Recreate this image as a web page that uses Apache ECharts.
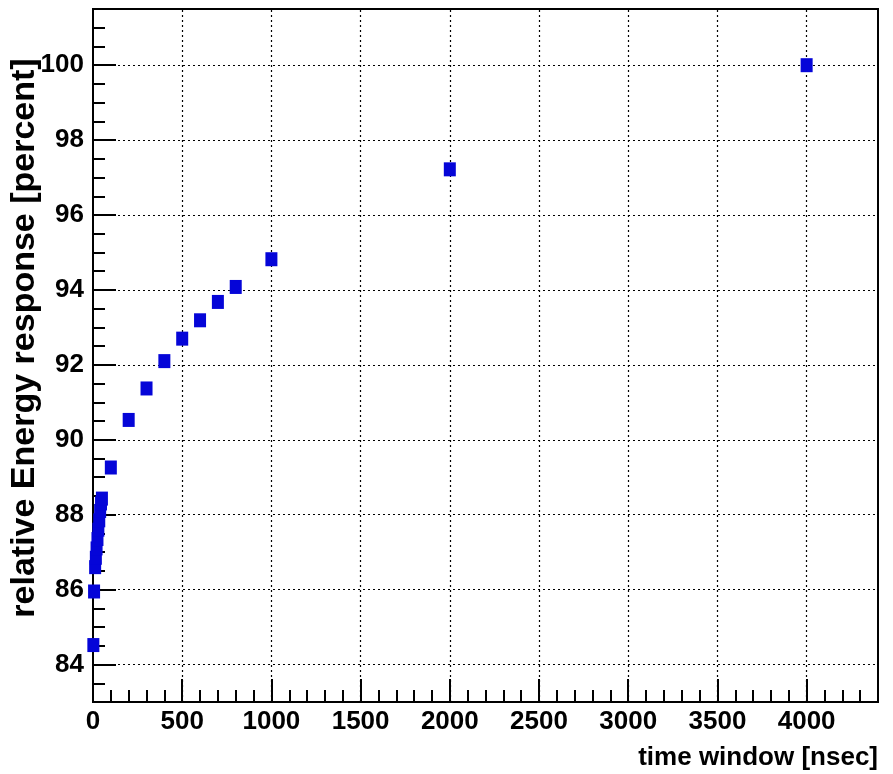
<!DOCTYPE html>
<html>
<head>
<meta charset="utf-8">
<script src="https://cdn.jsdelivr.net/npm/echarts@6/dist/echarts.min.js"></script>
<style>
html,body{margin:0;padding:0;background:#fff;}
#chart{width:893px;height:774px;}
</style>
</head>
<body>
<div id="chart"></div>
<script>
// time window [nsec]
const timeWindow = [2, 6, 12, 16, 20, 25, 30, 35, 40, 45, 50, 100, 200, 300, 400, 500, 600, 700, 800, 1000, 2000, 4000];
// relative energy response [percent]
const response = [84.52, 85.95, 86.6, 86.85, 87.1, 87.35, 87.6, 87.85, 88.1, 88.3, 88.43, 89.26, 90.53, 91.37, 92.1, 92.7, 93.19, 93.68, 94.08, 94.82, 97.22, 100.0];
const xMajorTicks = [0, 500, 1000, 1500, 2000, 2500, 3000, 3500, 4000];
const yMajorTicks = [84, 86, 88, 90, 92, 94, 96, 98, 100];
const xTitle = 'time window [nsec]';
const yTitle = 'relative Energy response [percent]';

const chart = echarts.init(document.getElementById('chart'), null, {renderer: 'canvas'});
const FONT = '"Liberation Sans", Arial, sans-serif';
const lineCol = '#000';

const gridLines = [
  ...yMajorTicks.map(v => ({yAxis: v})),
  ...xMajorTicks.filter(v => v > 0).map(v => ({xAxis: v}))
];

chart.setOption({
  animation: false,
  backgroundColor: '#fff',
  grid: {left: 93, top: 9, right: 15, bottom: 72, show: true, borderColor: '#000', borderWidth: 2, containLabel: false},
  xAxis: [
    {
      type: 'value', min: 0, max: 4400, interval: 100, position: 'bottom',
      axisLine: {show: true, onZero: false, lineStyle: {color: lineCol, width: 2}},
      axisTick: {show: true, inside: true, length: 12, lineStyle: {color: lineCol, width: 2}},
      axisLabel: {show: false},
      splitLine: {show: false}
    },
    {
      type: 'value', min: 0, max: 4400, interval: 500, position: 'bottom',
      axisLine: {show: false, onZero: false},
      axisTick: {show: true, inside: true, length: 23, lineStyle: {color: lineCol, width: 2}},
      axisLabel: {show: true, showMaxLabel: false, margin: 7, color: '#000', fontFamily: FONT, fontWeight: 'bold', fontSize: 26,
        formatter: v => (xMajorTicks.indexOf(v) >= 0 ? String(v) : '')},
      splitLine: {show: false}
    }
  ],
  yAxis: [
    {
      type: 'value', min: 83, max: 101.5, interval: 0.5, position: 'left',
      axisLine: {show: true, onZero: false, lineStyle: {color: lineCol, width: 2}},
      axisTick: {show: true, inside: true, length: 12, lineStyle: {color: lineCol, width: 2}},
      axisLabel: {show: false},
      splitLine: {show: false}
    },
    {
      type: 'value', min: 83, max: 101.5, interval: 0.5, position: 'left',
      axisLine: {show: false, onZero: false},
      axisTick: {show: true, inside: true, length: 23, customValues: yMajorTicks, lineStyle: {color: lineCol, width: 2}},
      axisLabel: {show: true, margin: 9, customValues: yMajorTicks, color: '#000', fontFamily: FONT, fontWeight: 'bold', fontSize: 26},
      splitLine: {show: false}
    }
  ],
  series: [
    {
      type: 'scatter', xAxisIndex: 0, yAxisIndex: 0, z: 1,
      data: [],
      markLine: {
        silent: true, symbol: ['none', 'none'], animation: false, z: 1,
        label: {show: false},
        lineStyle: {color: '#000', type: [2, 3], width: 1.2},
        emphasis: {disabled: true},
        data: gridLines
      }
    },
    {
      type: 'scatter', xAxisIndex: 0, yAxisIndex: 0, z: 5,
      symbol: 'rect', symbolSize: [12, 14],
      itemStyle: {color: '#0505d8', opacity: 1},
      data: timeWindow.map((t, i) => [t, response[i]])
    }
  ],
  graphic: [
    {
      type: 'text', x: 878, y: 771, z: 10,
      style: {text: xTitle, fill: '#000', font: 'bold 26px ' + FONT, textAlign: 'right', textVerticalAlign: 'bottom'}
    },
    {
      type: 'text', x: 25, y: 338, rotation: Math.PI / 2, z: 10,
      style: {text: yTitle, fill: '#000', font: 'bold 34px ' + FONT, textAlign: 'center', textVerticalAlign: 'middle'}
    }
  ]
});
</script>
</body>
</html>
